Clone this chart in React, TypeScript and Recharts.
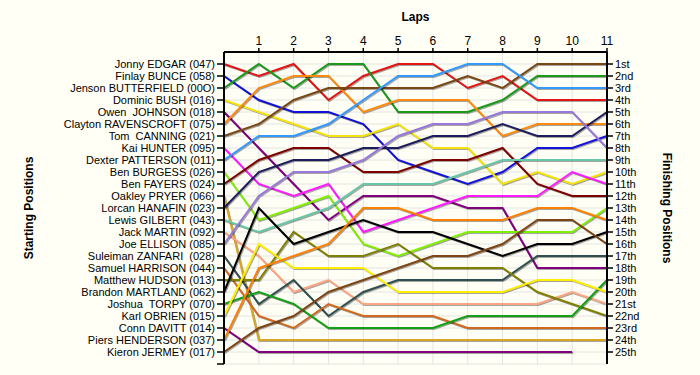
import { LineChart, Line, XAxis, YAxis, CartesianGrid } from "recharts";

// lap numbers along the top axis (0 = grid)
const laps = [0, 1, 2, 3, 4, 5, 6, 7, 8, 9, 10, 11];

// starting grid, in order of starting position
const starters = [
  "Jonny EDGAR (047)",
  "Finlay BUNCE (058)",
  "Jenson BUTTERFIELD (00O)",
  "Dominic BUSH (016)",
  "Owen\u00A0 JOHNSON (018)",
  "Clayton RAVENSCROFT (075)",
  "Tom\u00A0 CANNING (021)",
  "Kai HUNTER (095)",
  "Dexter PATTERSON (011)",
  "Ben BURGESS (026)",
  "Ben FAYERS (024)",
  "Oakley PRYER (066)",
  "Lorcan HANAFIN (023)",
  "Lewis GILBERT (043)",
  "Jack MARTIN (092)",
  "Joe ELLISON (085)",
  "Suleiman ZANFARI\u00A0 (028)",
  "Samuel HARRISON (044)",
  "Matthew HUDSON (013)",
  "Brandon MARTLAND (062)",
  "Joshua\u00A0 TORPY (070)",
  "Karl OBRIEN (015)",
  "Conn DAVITT (014)",
  "Piers HENDERSON (037)",
  "Kieron JERMEY (017)",
];

const finishLabels = [
  "1st", "2nd", "3rd", "4th", "5th", "6th", "7th", "8th", "9th", "10th",
  "11th", "12th", "13th", "14th", "15th", "16th", "17th", "18th", "19th",
  "20th", "21st", "22nd", "23rd", "24th", "25th",
];

// position of each driver at the end of every lap
const edgar = [1, 2, 1, 4, 2, 1, 1, 3, 2, 4, 4, 4];
const bunce = [2, 4, 5, 5, 6, 9, 10, 11, 10, 8, 8, 7];
const butterfield = [3, 1, 3, 1, 1, 5, 5, 5, 4, 2, 2, 2];
const bush = [4, 5, 6, 7, 7, 6, 8, 8, 11, 10, 11, 10];
const johnson = [5, 8, 11, 14, 12, 12, 12, 13, 13, 18, 18, 18];
const ravenscroft = [6, 3, 2, 2, 5, 4, 4, 4, 7, 6, 6, 6];
const canning = [7, 6, 4, 3, 3, 3, 3, 2, 3, 1, 1, 1];
const hunter = [8, 11, 12, 11, 15, 14, 13, 12, 12, 12, 10, 11];
const patterson = [9, 7, 7, 6, 4, 2, 2, 1, 1, 3, 3, 3];
const burgess = [10, 14, 13, 12, 16, 17, 16, 15, 15, 15, 15, 13];
const fayers = [11, 9, 8, 8, 10, 10, 9, 9, 8, 11, 12, 12];
const pryer = [12, 24, 24, 24, 24, 24, 24, 24, 24, 24, 24, 24];
const hanafin = [13, 10, 9, 9, 8, 8, 7, 7, 6, 7, 7, 5];
const gilbert = [14, 15, 14, 13, 11, 11, 11, 10, 9, 9, 9, 9];
const martin = [15, 17, 20, 19, 21, 21, 21, 21, 21, 21, 20, 21];
const ellison = [16, 12, 10, 10, 9, 7, 6, 6, 5, 5, 5, 8];
const zanfari = [17, 21, 19, 22, 20, 19, 19, 19, 19, 17, 17, 17];
const harrison = [18, 22, 23, 21, 22, 22, 22, 23, 23, 23, 23, 23];
const hudson = [19, 19, 15, 17, 17, 16, 18, 18, 18, 20, 21, 22];
const martland = [20, 13, 16, 15, 14, 15, 15, 16, 17, 16, 16, 15];
const torpy = [21, 20, 21, 23, 23, 23, 23, 22, 22, 22, 22, 19];
const obrien = [22, 16, 18, 18, 18, 20, 20, 20, 20, 19, 19, 20];
const davitt = [23, 25, 25, 25, 25, 25, 25, 25, 25, 25, 25]; // no lap 11
const henderson = [24, 18, 17, 16, 13, 13, 14, 14, 14, 13, 13, 14];
const jermey = [25, 23, 22, 20, 19, 18, 17, 17, 16, 14, 14, 16];

const runs = [
  edgar, bunce, butterfield, bush, johnson, ravenscroft, canning, hunter,
  patterson, burgess, fayers, pryer, hanafin, gilbert, martin, ellison,
  zanfari, harrison, hudson, martland, torpy, obrien, davitt, henderson, jermey,
];

const COLORS = [
  "#e31414", "#1212d8", "#1a9a1a", "#f5e20a", "#800080", "#ff8a10",
  "#7a4613", "#ff1aff", "#3399ff", "#80f000", "#7f0000", "#daa520",
  "#1c1c5e", "#66c8a8", "#ffa584", "#9878dc", "#2f4f4f", "#d2691e",
  "#808000", "#000000", "#14a014", "#ffee00", "#800080", "#ff8000", "#7d4414",
];

const chartData = laps.map((lap, i) => {
  const row: Record<string, number | undefined> = { lap };
  runs.forEach((r, d) => {
    row["d" + d] = r[i];
  });
  return row;
});

const positionTicks = finishLabels.map((_, i) => i + 1);
const FONT = "'Liberation Sans', Arial, sans-serif";

export default function App() {
  const last = runs.length - 1;
  return (
    <div style={{ width: 700, height: 375, background: "#fffff5" }}>
      <style>{`
        body { margin: 0; background: #fffff5; }
        .recharts-line-curve { filter: drop-shadow(1px 1px 0.5px rgba(0,0,0,0.35)); }
      `}</style>
      <LineChart
        width={700}
        height={375}
        data={chartData}
        margin={{ top: 0, right: 0, bottom: 11, left: 0 }}
        style={{ fontFamily: FONT }}
      >
        <CartesianGrid stroke="#e4e4e4" yAxisId="start" />
        <XAxis
          dataKey="lap"
          type="number"
          orientation="top"
          height={52}
          domain={[0, 11]}
          ticks={laps.slice(1)}
          tick={{ fill: "#000", fontSize: 12 }}
          tickSize={4}
          tickMargin={3}
          axisLine={{ stroke: "#000", strokeWidth: 2 }}
          tickLine={{ stroke: "#000", strokeWidth: 1.5 }}
          label={{
            value: "Laps",
            position: "insideTop",
            offset: 12,
            fontSize: 12,
            fontWeight: "bold",
            fill: "#000",
          }}
        />
        <YAxis
          yAxisId="start"
          orientation="left"
          width={224}
          type="number"
          reversed
          domain={[0, 26]}
          ticks={[...positionTicks, 26]}
          interval={0}
          tickFormatter={(v: number) => starters[v - 1] ?? ""}
          tick={{ fill: "#000", fontSize: 11 }}
          tickSize={7}
          tickMargin={2}
          axisLine={{ stroke: "#000", strokeWidth: 2 }}
          tickLine={{ stroke: "#000", strokeWidth: 1.5 }}
          label={{
            content: ({ viewBox }: any) => (
              <text
                x={viewBox.x + 30}
                y={viewBox.y + viewBox.height / 2}
                transform={`rotate(-90, ${viewBox.x + 30}, ${viewBox.y + viewBox.height / 2})`}
                textAnchor="middle"
                dominantBaseline="middle"
                fontSize={12}
                fontWeight="bold"
                fill="#000"
              >
                Starting Positions
              </text>
            ),
          }}
        />
        <YAxis
          yAxisId="finish"
          orientation="right"
          width={93}
          type="number"
          reversed
          domain={[0, 26]}
          ticks={positionTicks}
          interval={0}
          tickFormatter={(v: number) => finishLabels[v - 1] ?? ""}
          tick={{ fill: "#000", fontSize: 11 }}
          tickSize={6}
          tickMargin={2}
          axisLine={{ stroke: "#000", strokeWidth: 2 }}
          tickLine={{ stroke: "#000", strokeWidth: 1.5 }}
          label={{
            content: ({ viewBox }: any) => (
              <text
                x={viewBox.x + 59}
                y={viewBox.y + viewBox.height / 2}
                transform={`rotate(90, ${viewBox.x + 59}, ${viewBox.y + viewBox.height / 2})`}
                textAnchor="middle"
                dominantBaseline="middle"
                fontSize={12}
                fontWeight="bold"
                fill="#000"
              >
                Finishing Positions
              </text>
            ),
          }}
        />
        {runs.map((_, d) => (
          <Line
            key={d}
            yAxisId={d === last ? "finish" : "start"}
            dataKey={"d" + d}
            name={starters[d]}
            type="linear"
            stroke={COLORS[d]}
            strokeWidth={2}
            dot={false}
            activeDot={false}
            isAnimationActive={false}
          />
        ))}
      </LineChart>
    </div>
  );
}
